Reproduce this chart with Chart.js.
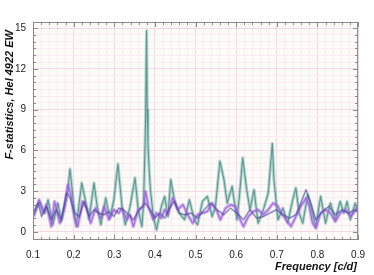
<!DOCTYPE html>
<html>
<head>
<meta charset="utf-8">
<script src="https://cdn.jsdelivr.net/npm/chart.js@4/dist/chart.umd.min.js"></script>
<style>
    html, body { margin: 0; padding: 0; background: #fff; }
    #wrap { width: 374px; height: 275px; position: relative; }
</style>
</head>
<body>
<div id="wrap"><canvas id="fstat"></canvas></div>
<script>
// Tick labels shown on the axes
const xTicks = [0.1, 0.2, 0.3, 0.4, 0.5, 0.6, 0.7, 0.8, 0.9];
const yTicks = [0, 3, 6, 9, 12, 15];

// Series (frequency in c/d, F-statistic)
const tealFreq = [0.100, 0.116, 0.129, 0.137, 0.149, 0.161, 0.170, 0.178, 0.184, 0.191, 0.198, 0.206, 0.220, 0.232, 0.238, 0.250,
    0.258, 0.267, 0.279, 0.289, 0.299, 0.309, 0.319, 0.327, 0.339, 0.351, 0.359, 0.368, 0.372, 0.375, 0.377, 0.3795, 0.381,
    0.383, 0.386, 0.389, 0.396, 0.404, 0.416, 0.424, 0.432, 0.439, 0.448, 0.460, 0.473, 0.485, 0.497, 0.505, 0.517, 0.529,
    0.541, 0.549, 0.560, 0.570, 0.578, 0.590, 0.602, 0.608, 0.616, 0.626, 0.634, 0.644, 0.654, 0.667, 0.679, 0.689, 0.693,
    0.703, 0.715, 0.727, 0.739, 0.747, 0.755, 0.764, 0.776, 0.788, 0.796, 0.808, 0.820, 0.832, 0.844, 0.856, 0.865, 0.873,
    0.881, 0.893, 0.900];
const tealF = [1.08, 2.24, 1.38, 2.36, 0.52, 2.12, 0.76, 1.87, 2.6, 4.63, 2.61, 0.39, 3.6, 1.87, 0.89, 3.6,
    1.87, 0.52, 2.49, 1.01, 2.36, 5.0, 1.87, 0.52, 1.87, 3.97, 1.63, 0.39, 2.0, 5.5, 8.0, 14.8, 9.0,
    6.5, 4.5, 3.1, 1.13, 0.15, 1.87, 2.61, 1.13, 3.84, 2.36, 1.38, 0.89, 2.36, 0.89, 0.52, 2.24, 2.61,
    1.13, 1.87, 5.2, 3.84, 2.12, 3.35, 0.89, 2.61, 5.44, 3.1, 1.63, 3.1, 0.64, 1.63, 2.86, 6.5, 3.84,
    0.89, 1.75, 0.64, 2.36, 3.23, 1.38, 0.64, 2.73, 1.38, 0.39, 2.61, 0.64, 2.12, 0.89, 2.24, 1.38, 2.24,
    0.89, 2.12, 1.38];

const purpleFreq = [0.101, 0.115, 0.125, 0.133, 0.145, 0.153, 0.166, 0.178, 0.186, 0.194, 0.202, 0.210, 0.222, 0.234, 0.242,
    0.254, 0.267, 0.275, 0.287, 0.299, 0.311, 0.319, 0.331, 0.339, 0.347, 0.359, 0.372, 0.377, 0.384, 0.396, 0.404, 0.416,
    0.424, 0.432, 0.444, 0.456, 0.469, 0.481, 0.493, 0.505, 0.517, 0.529, 0.541, 0.553, 0.561, 0.574, 0.586, 0.598, 0.610,
    0.618, 0.630, 0.642, 0.654, 0.667, 0.679, 0.691, 0.703, 0.711, 0.723, 0.735, 0.747, 0.759, 0.772, 0.780, 0.788, 0.796,
    0.808, 0.820, 0.832, 0.844, 0.856, 0.869, 0.881, 0.889, 0.900];
const purpleF = [1.13, 2.36, 1.38, 2.0, 0.39, 2.24, 0.64, 1.87, 3.47, 2.61, 1.01, 0.39, 2.24, 1.63, 0.64,
    1.75, 1.01, 1.87, 0.89, 1.63, 1.38, 1.75, 0.89, 1.26, 0.39, 1.63, 1.87, 2.98, 1.87, 0.89, 1.38, 1.01,
    1.63, 1.26, 2.49, 1.63, 2.0, 1.26, 0.64, 1.26, 1.38, 1.5, 2.12, 1.5, 0.89, 1.75, 2.0, 1.87, 0.89,
    0.39, 1.13, 1.5, 1.63, 1.26, 1.63, 2.12, 1.87, 1.38, 0.89, 0.39, 1.13, 1.87, 2.49, 1.87, 0.64, 0.27,
    1.38, 1.63, 1.38, 0.76, 1.38, 1.63, 1.13, 1.38, 1.87];

const navyFreq = [0.101, 0.113, 0.121, 0.133, 0.145, 0.157, 0.170, 0.182, 0.190, 0.202, 0.214, 0.226, 0.238, 0.250, 0.262,
    0.275, 0.287, 0.299, 0.311, 0.323, 0.335, 0.347, 0.359, 0.376, 0.388, 0.400, 0.412, 0.424, 0.436, 0.448, 0.460, 0.473,
    0.489, 0.505, 0.521, 0.537, 0.553, 0.570, 0.586, 0.602, 0.618, 0.634, 0.650, 0.667, 0.683, 0.699, 0.715, 0.731, 0.747,
    0.759, 0.772, 0.784, 0.796, 0.812, 0.828, 0.844, 0.860, 0.877, 0.893, 0.900];
const navyF = [1.38, 2.12, 1.13, 1.87, 0.89, 1.63, 0.89, 2.86, 2.61, 1.38, 1.13, 2.24, 1.13, 1.63, 1.38,
    1.26, 1.5, 1.13, 1.75, 1.63, 1.26, 0.89, 1.5, 2.12, 1.63, 1.01, 1.38, 1.01, 1.75, 2.24, 1.38, 1.26,
    1.38, 1.01, 1.63, 2.12, 1.63, 1.26, 1.75, 1.38, 0.89, 1.63, 1.01, 1.13, 1.38, 1.63, 1.26, 1.01, 1.26,
    2.12, 3.1, 2.12, 0.89, 1.5, 1.87, 1.26, 1.63, 1.38, 1.63, 1.5];

const toPoints = (xs, ys) => xs.map((x, i) => ({ x: x, y: ys[i] }));

// minor grid steps
const xMinor = [];
for (let i = 0; i <= 40; i++) xMinor.push(+(0.1 + i * 0.02).toFixed(2));
const yMinor = [];
for (let i = 0; i <= 30; i++) yMinor.push(i * 0.5);

const isMajorX = v => Math.abs(v * 10 - Math.round(v * 10)) < 1e-6;
const isMajorY = v => Math.abs(v / 3 - Math.round(v / 3)) < 1e-6;

// plot box background, frame and inward tick marks
const framePlugin = {
    id: 'frame',
    beforeDraw(chart) {
        const { ctx, chartArea: a } = chart;
        ctx.save();
        ctx.fillStyle = '#fbfcf7';
        ctx.fillRect(a.left, a.top, a.right - a.left, a.bottom - a.top);
        ctx.restore();
    },
    afterDraw(chart) {
        const { ctx, chartArea: a, scales } = chart;
        ctx.save();
        ctx.strokeStyle = '#8a8a8a';
        ctx.lineWidth = 1;
        ctx.strokeRect(a.left + 0.5, a.top + 0.5, a.right - a.left - 1, a.bottom - a.top - 1);
        ctx.beginPath();
        xMinor.forEach(v => {
            const px = Math.round(scales.x.getPixelForValue(v)) + 0.5;
            const len = isMajorX(v) ? 5 : 3;
            ctx.moveTo(px, a.bottom); ctx.lineTo(px, a.bottom - len);
            ctx.moveTo(px, a.top); ctx.lineTo(px, a.top + len);
        });
        yMinor.forEach(v => {
            const py = Math.round(scales.y.getPixelForValue(v)) + 0.5;
            const len = isMajorY(v) ? 5 : 3;
            ctx.moveTo(a.left, py); ctx.lineTo(a.left + len, py);
            ctx.moveTo(a.right, py); ctx.lineTo(a.right - len, py);
        });
        ctx.stroke();

        // axis titles
        ctx.fillStyle = '#111';
        ctx.font = 'italic bold 11px "Liberation Sans", Arial, sans-serif';
        ctx.textAlign = 'right';
        ctx.textBaseline = 'alphabetic';
        ctx.fillText('Frequency [c/d]', 357, 270);
        ctx.translate(13, 30);
        ctx.rotate(-Math.PI / 2);
        ctx.fillText('F-statistics, Hel 4922 EW', 0, 0);
        ctx.restore();
    }
};

// each series: a faint wide band plus a thin core line on the same values
function seriesPair(name, xs, ys, band, core, coreWidth, bandWidth) {
    const pts = toPoints(xs, ys);
    return [
        { label: name, data: pts, borderColor: core, borderWidth: coreWidth },
        { label: name + ' band', data: pts, borderColor: band, borderWidth: bandWidth }
    ];
}

const ctx = document.getElementById('fstat').getContext('2d');
new Chart(ctx, {
    type: 'line',
    data: {
        datasets: [
            ...seriesPair('navy', navyFreq, navyF, 'rgba(78, 80, 155, 0.25)', 'rgba(62, 64, 140, 0.7)', 0.9, 2.4),
            ...seriesPair('purple', purpleFreq, purpleF, 'rgba(172, 108, 235, 0.5)', 'rgba(155, 90, 220, 0.85)', 1.1, 3.4),
            ...seriesPair('teal', tealFreq, tealF, 'rgba(100, 168, 160, 0.45)', 'rgba(78, 148, 140, 0.9)', 1.1, 3.2)
        ]
    },
    options: {
        responsive: true,
        maintainAspectRatio: false,
        animation: false,
        layout: { padding: { top: 22, right: 11, left: 0, bottom: 0 } },
        elements: {
            point: { radius: 0 },
            line: { tension: 0, borderJoinStyle: 'round' }
        },
        plugins: {
            legend: { display: false },
            tooltip: { enabled: false }
        },
        scales: {
            x: {
                type: 'linear',
                min: 0.1,
                max: 0.9,
                afterBuildTicks: s => { s.ticks = xMinor.map(v => ({ value: v })); },
                afterFit: s => { s.height = 35; },
                border: { display: false },
                grid: {
                    drawTicks: false,
                    color: c => isMajorX(c.tick.value) ? '#f6d7e6' : '#fbebf1'
                },
                ticks: {
                    autoSkip: false,
                    maxRotation: 0,
                    padding: 9,
                    color: '#222',
                    font: { family: '"Liberation Sans", Arial, sans-serif', size: 10 },
                    callback: v => xTicks.some(t => Math.abs(t - v) < 1e-6) ? v.toFixed(1) : ''
                }
            },
            y: {
                min: -0.6,
                max: 15.45,
                afterBuildTicks: s => { s.ticks = yMinor.map(v => ({ value: v })); },
                afterFit: s => { s.width = 33; },
                border: { display: false },
                grid: {
                    drawTicks: false,
                    color: c => isMajorY(c.tick.value) ? '#f6d7e6' : '#fbebf1'
                },
                ticks: {
                    autoSkip: false,
                    padding: 7,
                    color: '#222',
                    font: { family: '"Liberation Sans", Arial, sans-serif', size: 10 },
                    callback: v => yTicks.includes(v) ? String(v) : ''
                }
            }
        }
    },
    plugins: [framePlugin]
});
</script>
</body>
</html>
